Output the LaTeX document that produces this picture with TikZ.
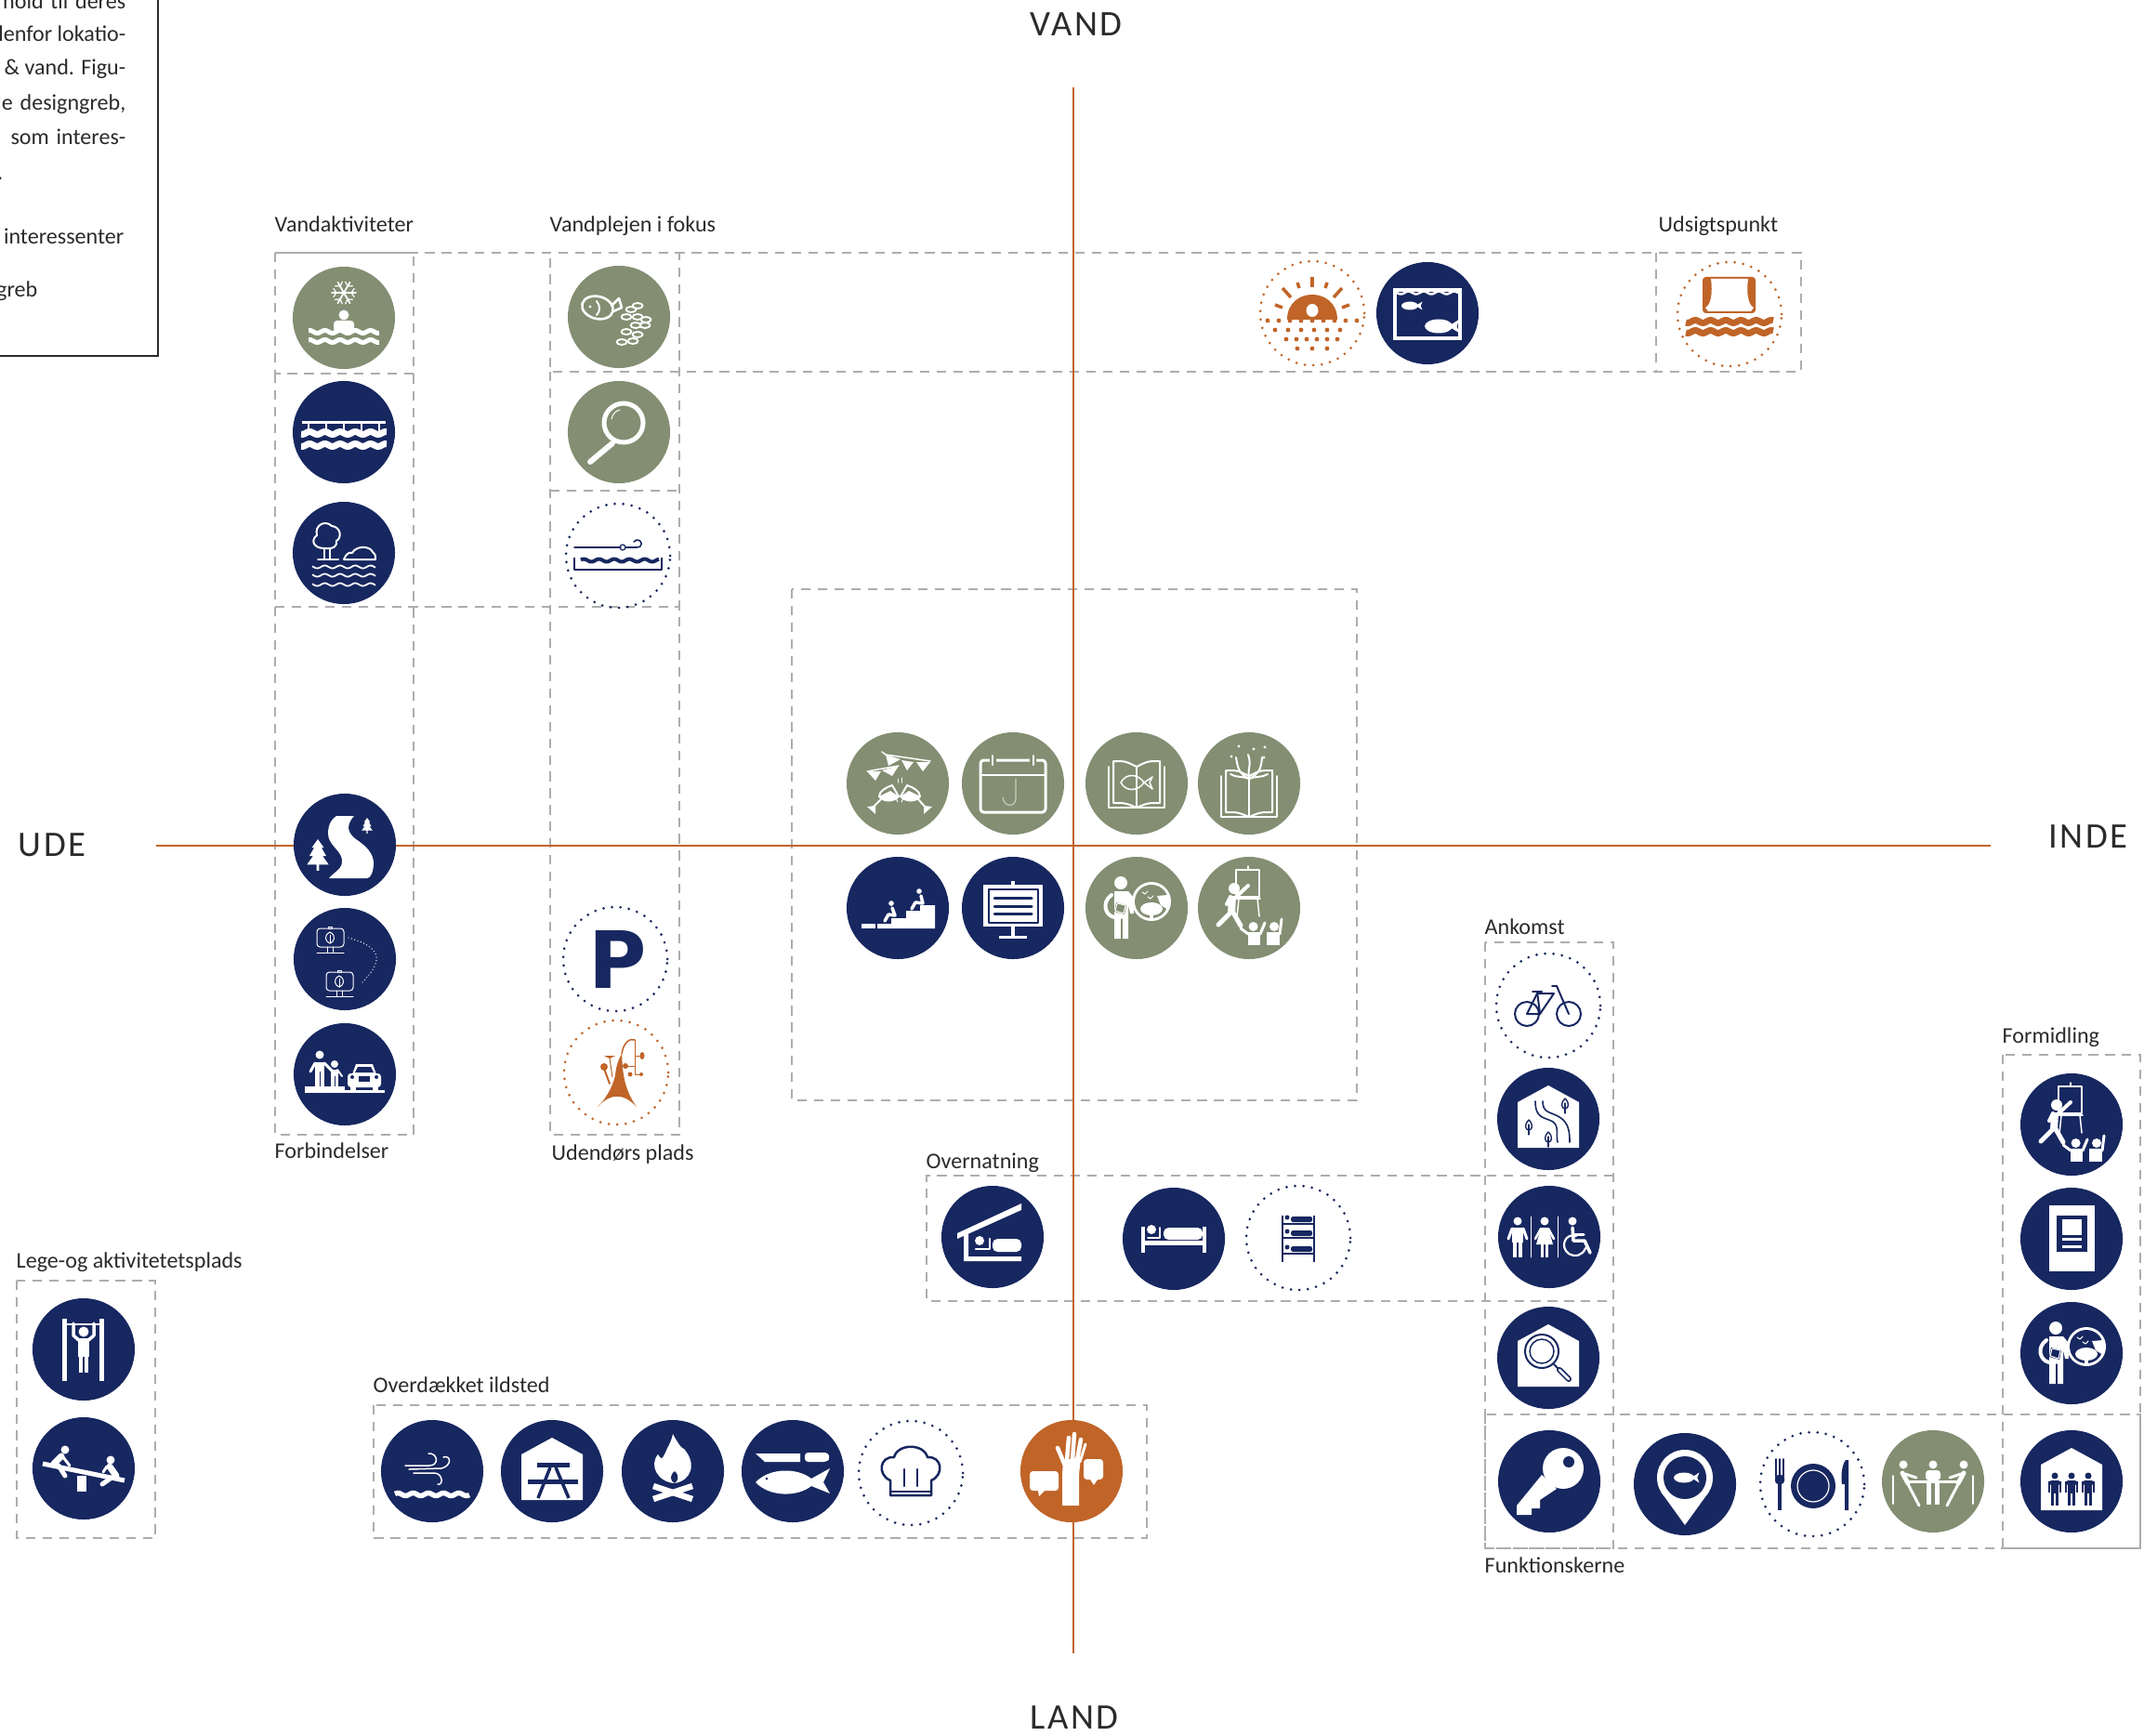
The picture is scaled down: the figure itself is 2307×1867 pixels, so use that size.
\documentclass[tikz,border=0pt]{standalone}
\usepackage{fontspec}
\setmainfont{Carlito}
\newfontfamily\axisfont[LetterSpace=6]{Carlito}
\newfontfamily\parkfont{DejaVu Sans}
\definecolor{navy}{HTML}{172760}
\definecolor{sage}{HTML}{838E72}
\definecolor{rust}{HTML}{C06428}
\definecolor{dashgray}{HTML}{ADADAD}
\definecolor{inkgray}{HTML}{2B2B2B}
\tikzset{
  lw/.style={line width=#1*0.01cm},
  dashbox/.style={draw=dashgray,lw=2,dash pattern=on 2.9pt off 2.2pt},
  axisline/.style={draw=rust,lw=2.6},
  axislabel/.style={font=\axisfont\fontsize{11pt}{13pt}\selectfont,text=inkgray,inner sep=0},
  grouplabel/.style={anchor=west,font=\fontsize{6.85pt}{8pt}\selectfont,text=inkgray,inner sep=0,text height=5pt,text depth=1.5pt},
  notetext/.style={anchor=east,font=\fontsize{6.85pt}{8pt}\selectfont,text=inkgray,inner sep=0,text height=5pt,text depth=1.5pt},
  disc/.style={circle,fill=#1,minimum size=1.1cm,inner sep=0},
  ringnavy/.style={circle,draw=navy,minimum size=1.12cm,inner sep=0,lw=3,line cap=round,dash pattern=on 0pt off 2.6pt},
  ringrust/.style={circle,draw=rust,minimum size=1.12cm,inner sep=0,lw=3,line cap=round,dash pattern=on 0pt off 2.6pt},
  icon/.style={shift={(#1)},white,line cap=round,line join=round,lw=2},
}
\newcommand{\wavy}[4]{\draw[lw=#4,line cap=butt] plot[domain=#1:#2,samples=50] (\x,{#3+1.5*sin(22*\x)});}
\newcommand{\firicon}[3]{\begin{scope}[shift={(#1,#2)},scale=#3]
\fill (0,-10)--(5,-3)--(3,-3)--(7,4)--(4,4)--(9,11)--(1,11)--(1,16)--(-1,16)--(-1,11)--(-9,11)--(-4,4)--(-7,4)--(-3,-3)--(-5,-3)--cycle;
\end{scope}}
\newcommand{\fishicon}[3]{\begin{scope}[shift={(#1,#2)},scale=#3]
\fill (0,0) ellipse (10 and 5);
\fill (7,0)--(15,-5)--(13,0)--(15,5)--cycle;
\end{scope}}
\newcommand{\houseshape}{\fill (-33,-18)--(0,-36)--(33,-18)--(33,31)--(-33,31)--cycle;}
\newcommand{\bookicon}{
\draw (-30,-18)--(-30,26)--(30,26)--(30,-18);
\draw (-25,-24) .. controls (-12,-24) .. (0,-18) .. controls (12,-24) .. (25,-24) -- (25,21) .. controls (12,21) .. (0,26) .. controls (-12,21) .. (-25,21) -- cycle;
\draw (0,-18)--(0,26);}
\newcommand{\guideicon}[1]{
\fill (-17,-27) circle (7);
\fill (-24,-18)--(-9,-18)--(-4,-12)--(-3,6)--(-7,6)--(-9,-4)--(-9,33)--(-15,33)--(-16,12)--(-17,33)--(-24,33)--cycle;
\draw[#1,lw=1.5] (-16,12)--(-16,33);
\draw[lw=4] (-27,-14) .. controls (-38,-6) and (-34,8) .. (-24,10);
\fill[#1] (-22,-6)--(-11,-3)--(-13,7)--(-24,4)--cycle;
\draw[lw=1] (-21,-5)--(-12,-3)--(-14,6)--(-23,3)--cycle;
\fill (16,-7) circle (21);
\fill[#1] (16,-7) circle (18);
\fill (16,1) ellipse (12 and 7);
\fill (14,4) rectangle (18,12);
\fill (22,-13)--(34,-14)--(34,2)--(26,-3)--cycle;
\draw[lw=1] (6,-17)--(9,-15)--(12,-18);
\draw[lw=1] (12,-12)--(15,-10)--(18,-13);}
\newcommand{\teachericon}[1]{
\draw[lw=1.5] (-14,-41) rectangle (11,-12);
\draw[lw=1.5] (-1,-45)--(-1,-41);
\draw[lw=1.5] (-14,-10)--(12,-10);
\draw[lw=1.5] (-11,-10)--(-13,10);
\draw[lw=1.5] (9,-10)--(11,9);
\fill (-16,-21) circle (6);
\draw[lw=8,line cap=butt] (-18,-13)--(-19,6);
\draw[lw=4] (-15,-11)--(-1,-24);
\draw[lw=4] (-20,-12)--(-24,-4);
\draw[lw=5] (-20,5)--(-33,18);
\draw[lw=5] (-17,5)--(-9,19);
\fill (4.6,20) circle (5);
\fill (27,20) circle (5);
\fill (-1,26) rectangle (12,40);
\fill (19,26) rectangle (33,40);
\draw[lw=3] (-1,28)--(-9,22);
\draw[lw=3] (12,28)--(17,16);
\draw[lw=3] (33,28)--(35,12);}
\begin{document}
\begin{tikzpicture}[x=0.01cm,y=-0.01cm]
\useasboundingbox (0,0) rectangle (2307,1867);

% note in the corner
\draw[inkgray,lw=1.5] (-10,-10) rectangle (170,383);
\node[notetext] (noteA) at (136,3) {hold\hspace{2.2pt}til\hspace{2.2pt}deres};
\node[notetext] (noteB) at (136,38) {lenfor lokatio-};
\node[notetext] (noteC) at (136,74) {\& vand. Figu-};
\node[notetext] (noteD) at (136,112) {le\hspace{2.2pt}designgreb,};
\node[notetext] (noteE) at (136,149) {som\hspace{2.2pt}interes-};
\node[notetext] (noteF) at (4,187) {.};
\node[notetext] (noteG) at (134,256) {interessenter};
\node[notetext] (noteH) at (41,313) {greb};

% dashed groups
\draw[dashbox] (296,272) rectangle (445,402);
\draw[dashbox] (296,272) -- (1938,272) -- (1938,400) -- (592,400) -- (592,272);
\draw[dashbox] (1782,272) -- (1782,400);
\draw[dashbox] (296,402) -- (296,1221) -- (445,1221) -- (445,402);
\draw[dashbox] (296,653) -- (731,653);
\draw[dashbox] (592,400) -- (592,1221) -- (731,1221) -- (731,272);
\draw[dashbox] (592,528) -- (731,528);
\draw[dashbox] (852,634) rectangle (1460,1184);
\draw[dashbox] (1736,1265) -- (997,1265) -- (997,1400) -- (1736,1400);
\draw[dashbox] (1598,1014) rectangle (1736,1666);
\draw[dashbox] (1598,1522) rectangle (2303,1666);
\draw[dashbox] (2155,1135) rectangle (2303,1666);
\draw[dashbox] (18,1378) rectangle (167,1655);
\draw[dashbox] (402,1512) rectangle (1234,1655);

% axes
\coordinate (udeEnd) at (168,910);
\coordinate (indeEnd) at (2142,910);
\coordinate (vandEnd) at (1155,94);
\coordinate (landEnd) at (1155,1779);
\draw[axisline] (udeEnd) -- (indeEnd);
\draw[axisline] (vandEnd) -- (landEnd);
\node[axislabel] (vand) at (1158,26) {VAND};
\node[axislabel] (land) at (1156,1848) {LAND};
\node[axislabel] (ude) at (56,909) {UDE};
\node[axislabel] (inde) at (2247,900) {INDE};

% group names
\node[grouplabel] (lblVand) at (295,243) {Vandaktiviteter};
\node[grouplabel] (lblPleje) at (591,243) {Vandplejen i fokus};
\node[grouplabel] (lblUdsigt) at (1784,243) {Udsigtspunkt};
\node[grouplabel] (lblForb) at (295,1240) {Forbindelser};
\node[grouplabel] (lblPlads) at (593,1242) {Udendørs plads};
\node[grouplabel] (lblOver) at (996,1251) {Overnatning};
\node[grouplabel] (lblAnk) at (1597,999) {Ankomst};
\node[grouplabel] (lblForm) at (2154,1116) {Formidling};
\node[grouplabel] (lblFunk) at (1597,1686) {Funktionskerne};
\node[grouplabel] (lblIld) at (401,1492) {Overdækket ildsted};
\node[grouplabel] (lblLege) at (17,1358) {Lege-og aktivitetetsplads};

% the discs
\node[disc=sage] (bath) at (370,342) {};
\node[disc=navy] (bridge) at (370,465) {};
\node[disc=navy] (shore) at (370,595) {};
\node[disc=navy] (river) at (371,909) {};
\node[disc=navy] (signs) at (371,1032) {};
\node[disc=navy] (walkcar) at (371,1156) {};
\node[disc=sage] (roe) at (666,341) {};
\node[disc=sage] (lens) at (666,465) {};
\node[ringnavy] (hook) at (665,598) {};
\node[ringnavy] (park) at (662,1032) {};
\node[font=\parkfont\bfseries\fontsize{24.2pt}{25pt}\selectfont,text=navy,inner sep=0] (parkP) at (665,1032) {P};
\node[ringrust] (mobile) at (663,1154) {};
\node[ringrust] (sun) at (1412,337) {};
\node[disc=navy] (tank) at (1536,337) {};
\node[ringrust] (stage) at (1861,338) {};
\node[disc=sage] (party) at (966,843) {};
\node[disc=sage] (calendar) at (1090,843) {};
\node[disc=sage] (bookfish) at (1223,843) {};
\node[disc=sage] (booktree) at (1344,843) {};
\node[disc=navy] (steps) at (966,977) {};
\node[disc=navy] (board) at (1090,977) {};
\node[disc=sage] (guideA) at (1223,977) {};
\node[disc=sage] (teachA) at (1344,977) {};
\node[disc=navy] (shelter) at (1068,1331) {};
\node[disc=navy] (bed) at (1263,1333) {};
\node[ringnavy] (bunk) at (1397,1332) {};
\node[ringnavy] (bike) at (1666,1082) {};
\node[disc=navy] (houseroad) at (1666,1204) {};
\node[disc=navy] (toilet) at (1667,1331) {};
\node[disc=navy] (houselens) at (1666,1461) {};
\node[disc=navy] (key) at (1667,1594) {};
\node[disc=navy] (pin) at (1813,1597) {};
\node[ringnavy] (plate) at (1950,1597) {};
\node[disc=sage] (meeting) at (2080,1594) {};
\node[disc=navy] (housepeople) at (2229,1594) {};
\node[disc=navy] (teachB) at (2229,1210) {};
\node[disc=navy] (poster) at (2229,1333) {};
\node[disc=navy] (guideB) at (2229,1456) {};
\node[disc=navy] (wind) at (465,1583) {};
\node[disc=navy] (picnic) at (594,1583) {};
\node[disc=navy] (fire) at (724,1583) {};
\node[disc=navy] (knife) at (853,1583) {};
\node[ringnavy] (chef) at (980,1585) {};
\node[disc=rust] (hand) at (1153,1583) {};
\node[disc=navy] (pullup) at (90,1452) {};
\node[disc=navy] (seesaw) at (90,1580) {};

% the glyphs on the discs
\begin{scope}[icon=bath]
\foreach \a in {0,60,...,300} {
\draw[lw=1.8] (0,-27) -- ({13*cos(\a)},{-27+13*sin(\a)});
\draw[lw=1.2] ({8*cos(\a)},{-27+8*sin(\a)}) -- ({12*cos(\a+22)},{-27+12*sin(\a+22)});
\draw[lw=1.2] ({8*cos(\a)},{-27+8*sin(\a)}) -- ({12*cos(\a-22)},{-27+12*sin(\a-22)});}
\fill (0,-3) circle (5.5);
\fill[rounded corners=1pt] (-11,15) -- (-11,3) -- (11,3) -- (11,15) -- cycle;
\wavy{-38}{38}{15}{5}
\wavy{-38}{38}{25}{5}
\end{scope}

\begin{scope}[icon=bridge]
\draw[lw=3,line cap=butt] (-45,-11) -- (45,-11);
\foreach \x in {-38,-19,0,19,38} {\draw[lw=2,line cap=butt] (\x,-11) -- (\x,0);}
\wavy{-46}{46}{1}{7}
\wavy{-46}{46}{14}{7}
\end{scope}

\begin{scope}[icon=shore]
\draw (-21,-5) .. controls (-33,-5) and (-36,-14) .. (-29,-19) .. controls (-32,-30) and (-20,-36) .. (-13,-29) .. controls (-3,-28) and (-2,-16) .. (-8,-13) .. controls (-7,-7) and (-12,-5) .. (-15,-5) -- cycle;
\draw (-21,-5) -- (-21,7);
\draw (-15,-5) -- (-15,7);
\draw (-28,7) -- (-6,7);
\draw (0,7) .. controls (3,0) and (6,-1) .. (9,0) .. controls (13,-8) and (28,-8) .. (31,-1) .. controls (34,2) .. (34,7) -- (0,7);
\wavy{-34}{34}{15}{1.8}
\wavy{-34}{34}{24}{1.8}
\wavy{-34}{34}{34}{1.8}
\end{scope}

\begin{scope}[icon=roe]
\draw[lw=2.6,rotate around={-14:(-23,-10)}] (-23,-10) ellipse (17 and 12);
\draw[lw=2.6] (-8,-12) -- (0,-20) -- (3,-10) -- (-6,-6);
\draw[lw=2] (-24,-17) .. controls (-20,-12) and (-20,-6) .. (-24,-2);
\fill (-31,-11) circle (1.6);
\foreach \p/\q in {13/-8,20/-12,8/0,20/0,29/3,18/9,28/9,8/16,20/19,3/27,15/26} {\draw[lw=1.9] (\p,\q) ellipse (5.5 and 3);}
\end{scope}

\begin{scope}[icon=lens]
\draw[lw=5] (5,-10) circle (21);
\draw[lw=6] (-7,12) -- (-31,32);
\draw[lw=1] (-8,-14) .. controls (-7,-20) and (-3,-23) .. (1,-24);
\end{scope}

\begin{scope}[icon=hook,navy]
\draw[lw=1.6] (-47,-9) -- (3,-9);
\draw[lw=1.2] (5,-9) circle (3);
\draw[lw=1.6] (8,-9) -- (20,-9) .. controls (27,-9) and (27,-17) .. (20,-17) -- (17,-15);
\draw[lw=2,line cap=butt] (-47,2) -- (-47,15) -- (47,15) -- (47,2);
\wavy{-40}{44}{5}{4}
\end{scope}

\begin{scope}[icon=river]
\fill (-9,-31) -- (10,-31) .. controls (0,-20) and (4,-12) .. (12,-6) .. controls (24,2) and (31,10) .. (31,20) .. controls (31,28) and (28,36) .. (24,36) -- (-17,36) .. controls (-10,28) and (-2,26) .. (-3,16) .. controls (-4,6) and (-18,0) .. (-18,-12) .. controls (-18,-22) and (-14,-28) .. (-9,-31) -- cycle;
\firicon{-29}{7}{1.3}
\firicon{24}{-22.5}{0.65}
\end{scope}

\begin{scope}[icon=signs]
\foreach \bx/\by in {-16/-22,-6/25} {
\begin{scope}[shift={(\bx,\by)},lw=1]
\draw[rounded corners=1pt] (-14,-11) rectangle (15,9);
\draw (-2,-13) rectangle (2,-11);
\draw (0,-7) .. controls (8,-3) and (4,4) .. (0,5) .. controls (-4,4) and (-8,-3) .. (0,-7);
\draw (0,-4) -- (0,5);
\draw (-3,9) -- (-3,15);
\draw (3,9) -- (3,15);
\draw (-14,15) -- (15,15);
\end{scope}}
\draw[lw=1.4,line cap=round,dash pattern=on 0pt off 1pt] (4,-23) .. controls (22,-18) and (36,-10) .. (34,1) .. controls (33,10) and (24,20) .. (17,27);
\end{scope}

\begin{scope}[icon=walkcar]
\fill (-43,13) rectangle (0,20);
\fill (0,17) rectangle (43,20);
\fill (-27,-21) circle (4.5);
\fill (-32,-13) rectangle (-22,13);
\draw[lw=3] (-32,-12) -- (-37,-3);
\draw[lw=3] (-22,-12) -- (-14,-4);
\draw[navy,lw=1,line cap=butt] (-27,-3) -- (-27,13);
\fill (-11,-11) circle (4);
\fill (-15,-5) rectangle (-7,13);
\draw[lw=2] (-8,-5) -- (-3,2);
\draw[navy,lw=1,line cap=butt] (-11,2) -- (-11,13);
\fill[rounded corners=1pt] (3,-1) rectangle (39,14);
\fill (8,0) -- (12,-11) -- (30,-11) -- (34,0) -- cycle;
\fill[navy] (11,-2) -- (14,-8) -- (28,-8) -- (31,-2) -- cycle;
\fill (6,12) rectangle (12,17);
\fill (30,12) rectangle (36,17);
\fill[navy] (15,2) rectangle (27,8);
\fill[navy] (8,3) circle (2);
\fill[navy] (34,3) circle (2);
\end{scope}

\begin{scope}[icon=mobile,rust]
\fill (-20,37) .. controls (-8,25) and (-3,12) .. (-1,3) .. controls (0,-8) and (3,-15) .. (6,-20) .. controls (7,-8) and (6,15) .. (22,37) .. controls (8,22) and (-6,22) .. (-20,37) -- cycle;
\draw[lw=1.5] (6,-20) .. controls (8,-33) and (15,-37) .. (20,-35);
\draw[lw=0.8] (20,-35) -- (20,-18) -- (28,-18);
\draw[lw=0.8] (20,-18) -- (20,2) -- (27,2);
\draw[lw=0.8] (10,-7) -- (20,-7);
\fill (28,-18) ellipse (2.5 and 4);
\fill (10,-7) circle (3);
\fill (15,2) circle (2.5);
\fill (27,2) circle (2);
\fill (-13,-6) circle (4);
\draw[lw=2] (-13,-4) -- (-7,12);
\fill (-13,-18) -- (-1,-18) -- (-7,-15) -- cycle;
\draw[lw=1] (-7,-15) -- (-4,5);
\end{scope}

\begin{scope}[icon=sun,rust]
\fill (-27,7) .. controls (-27,-29) and (27,-29) .. (27,7) -- cycle;
\fill[white] (0,-3) ellipse (6.5 and 7);
\draw[lw=3.5,line cap=butt] (0,-39) -- (0,-28);
\draw[lw=3.5,line cap=butt] (-16,-33) -- (-14,-27);
\draw[lw=3.5,line cap=butt] (16,-33) -- (14,-27);
\draw[lw=3.5,line cap=butt] (-32,-27) -- (-23,-17);
\draw[lw=3.5,line cap=butt] (32,-27) -- (23,-17);
\draw[lw=3.5,line cap=butt] (-40,-9) -- (-32,-6);
\draw[lw=3.5,line cap=butt] (40,-9) -- (32,-6);
\foreach \x in {-48,-36,...,48} {\fill (\x,8) circle (2.4);}
\foreach \x in {-40,-26,...,40} {\fill (\x,18) circle (2.4);}
\foreach \x in {-28,-17,...,28} {\fill (\x,28) circle (2.4);}
\foreach \x in {-16,0,16} {\fill (\x,38) circle (2.4);}
\end{scope}

\begin{scope}[icon=tank]
\draw[lw=4,line cap=butt,line join=miter] (-35,-25) rectangle (35,27);
\wavy{-33}{33}{-22}{2.5}
\fishicon{-19}{-8}{0.9}
\fishicon{12}{14}{1.5}
\end{scope}

\begin{scope}[icon=stage,rust]
\fill[rounded corners=1pt] (-29,-40) rectangle (28,-1);
\fill[white] (-20,-38) -- (20,-38) .. controls (18,-22) and (20,-10) .. (26,-7) -- (23,-3) -- (-23,-3) -- (-26,-7) .. controls (-20,-10) and (-18,-22) .. (-20,-38) -- cycle;
\wavy{-47}{47}{8}{7}
\wavy{-47}{47}{19}{7}
\end{scope}

\begin{scope}[icon=party]
\draw[lw=1.5] (-17,-34) -- (-13,-31) -- (35,-24);
\draw[lw=1.5] (-33,-13) -- (1,-19);
\fill (-13,-31) -- (3,-26) -- (-10,-19) -- cycle;
\fill (4,-25) -- (17,-23) -- (10,-14) -- cycle;
\fill (20,-23) -- (35,-23) -- (27,-13) -- cycle;
\fill (-33,-13) -- (-18,-13) -- (-24,-3) -- cycle;
\fill (-17,-14) -- (1,-19) -- (-6,-8) -- cycle;
\draw[lw=2] (-6,2) -- (1,14) .. controls (-5,20) and (-15,20) .. (-20,14) .. controls (-20,8) and (-12,4) .. (-6,2);
\fill (1,14) .. controls (-5,20) and (-15,20) .. (-20,14) -- (-8,8) -- cycle;
\draw[lw=2] (-18,17) -- (-27,26);
\fill (-33,25) -- (-24,33) -- (-24,24) -- cycle;
\draw[lw=2] (10,2) -- (3,14) .. controls (9,20) and (19,20) .. (24,14) .. controls (24,8) and (16,4) .. (10,2);
\fill (3,14) .. controls (9,20) and (19,20) .. (24,14) -- (12,8) -- cycle;
\draw[lw=2] (22,17) -- (30,26);
\fill (37,25) -- (28,33) -- (28,24) -- cycle;
\draw[lw=1] (0,-5) -- (0,-1);
\draw[lw=1] (4,-6) -- (4,-1);
\draw[lw=1] (-2,16) -- (0,20);
\draw[lw=1] (6,16) -- (4,20);
\end{scope}

\begin{scope}[icon=calendar]
\draw[lw=3,rounded corners=1pt] (-35,-25) rectangle (35,31);
\draw[lw=2] (-35,-9) -- (35,-9);
\fill[sage] (-25,-31) rectangle (-18,-19);
\fill[sage] (18,-31) rectangle (25,-19);
\draw[lw=2] (-22,-30) -- (-22,-20);
\draw[lw=2] (22,-30) -- (22,-20);
\draw[lw=1.2,white!55!sage] (3,-5) -- (3,16) .. controls (3,26) and (-10,26) .. (-11,15);
\end{scope}

\begin{scope}[icon=bookfish]
\bookicon
\draw[lw=1.5] (-17,-1) .. controls (-11,-12) and (2,-10) .. (8,-1) .. controls (2,8) and (-11,10) .. (-17,-1) -- cycle;
\draw[lw=1.5] (8,-1) -- (17,-7) -- (14,-1) -- (17,6) -- cycle;
\end{scope}

\begin{scope}[icon=booktree,shift={(0,10)}]
\bookicon
\end{scope}
\begin{scope}[icon=booktree]
\draw (0,-5) .. controls (-2,-15) and (3,-20) .. (-1,-31);
\draw (0,-5) .. controls (-10,-10) and (-12,-15) .. (-14,-28);
\draw (0,-5) .. controls (10,-10) and (13,-15) .. (14,-28);
\draw (0,-5) .. controls (-6,-8) and (-14,-6) .. (-20,-10);
\draw (0,-5) .. controls (6,-8) and (14,-6) .. (20,-10);
\foreach \p/\q in {-11/-40,5/-37,17/-39,-19/-29,16/-28} {\fill (\p,\q) circle (1.7);}
\end{scope}

\begin{scope}[icon=steps]
\fill (-39,17) rectangle (-24,22);
\fill (-22,17) -- (-7,17) -- (-7,11) -- (9,11) -- (9,3) -- (24,3) -- (24,-3) -- (40,-3) -- (40,22) -- (-22,22) -- cycle;
\fill (-7,-5) circle (2.8);
\draw[lw=3.5] (-6,0) -- (-3,8) -- (-10,7) -- (-14,14);
\fill (23,-18) circle (2.8);
\draw[lw=3.5] (25,-13) -- (27,-5) -- (19,-6) -- (15,1);
\end{scope}

\begin{scope}[icon=board]
\fill (-32,-25) rectangle (32,20);
\draw[navy,lw=1.6,line cap=butt] (-26,-20) rectangle (27,16);
\foreach \y in {-11,-2,6} {\draw[navy,lw=3] (-20,\y) -- (20,\y);}
\fill (-2,-29) rectangle (2,-25);
\fill (-2,20) rectangle (2,30);
\fill (-15,30) rectangle (15,33);
\end{scope}

\begin{scope}[icon=guideA]
\guideicon{sage}
\end{scope}
\begin{scope}[icon=guideB]
\guideicon{navy}
\end{scope}
\begin{scope}[icon=teachA]
\teachericon{sage}
\end{scope}
\begin{scope}[icon=teachB]
\teachericon{navy}
\end{scope}

\begin{scope}[icon=shelter]
\fill (-38,-4) -- (31,-36) -- (31,-29) -- (-38,2) -- cycle;
\fill (-31,-4) -- (-26,-6) -- (-26,21) -- (31,21) -- (31,26) -- (-31,26) -- cycle;
\fill (-14,4) circle (5);
\draw[lw=2.5] (-3,2) -- (-3,13) -- (-18,13);
\fill[rounded corners=1.5pt] (0,2) -- (31,2) -- (31,16) -- (0,16) -- cycle;
\end{scope}

\begin{scope}[icon=bed]
\fill (-35,-13) rectangle (-31,15);
\fill (31,-13) rectangle (35,15);
\fill (-31,2) rectangle (31,7);
\fill (-24,-10) circle (5);
\draw[lw=2] (-15,-12) -- (-15,-1) -- (-28,-1);
\fill[rounded corners=1.5pt] (-11,-12) -- (31,-12) -- (31,1) -- (-11,1) -- cycle;
\end{scope}

\begin{scope}[icon=bunk,navy]
\fill (-18,-24) rectangle (-16,26);
\fill (16,-24) rectangle (18,26);
\foreach \y in {-24,-9,8} {
\fill (-16,{\y+8}) rectangle (16,{\y+10});
\fill[rounded corners=0.5pt] (-8,{\y+1}) rectangle (15,{\y+7});
\fill (-12,{\y+2}) circle (2.5);}
\end{scope}

\begin{scope}[icon=bike,navy]
\draw (-23,9) circle (13);
\draw (22,9) circle (13);
\draw (-23,9) -- (-12,-13) -- (6,-13) -- (-9,9) -- cycle;
\draw (-12,-15) -- (-9,9);
\draw (9,-21) -- (22,9);
\draw (-17,-15) -- (-7,-15);
\draw (4,-21) -- (9,-21);
\end{scope}

\begin{scope}[icon=houseroad]
\houseshape
\draw[navy,lw=1.6] (-14,-19) .. controls (-14,0) and (-4,-2) .. (5,3) .. controls (12,8) and (8,18) .. (10,25);
\draw[navy,lw=1.6] (-6,-19) .. controls (-6,-6) and (2,-8) .. (12,-2) .. controls (22,4) and (23,14) .. (23,25);
\foreach \p/\q in {-21/8,18/-15,0/21} {
\draw[navy,lw=1.4] (\p,{\q-7}) .. controls ({\p+6},{\q-1}) and ({\p+3},{\q+4}) .. (\p,{\q+4}) .. controls ({\p-3},{\q+4}) and ({\p-6},{\q-1}) .. (\p,{\q-7});
\draw[navy,lw=1.2] (\p,{\q-2}) -- (\p,{\q+9});}
\end{scope}

\begin{scope}[icon=toilet]
\draw[lw=0.8] (-20,-22) -- (-20,22);
\draw[lw=0.8] (9,-22) -- (9,22);
\fill (-34,-17) circle (4.5);
\fill (-40,-10) rectangle (-28,6);
\fill (-39,6) rectangle (-35,22);
\fill (-33,6) rectangle (-29,22);
\draw[lw=3] (-40,-9) -- (-44,2);
\draw[lw=3] (-28,-9) -- (-24,2);
\fill (-5,-17) circle (4.5);
\fill (-9,-10) -- (-1,-10) -- (4,8) -- (-14,8) -- cycle;
\fill (-9,8) rectangle (-6,22);
\fill (-4,8) rectangle (-1,22);
\draw[lw=2.5] (-9,-9) -- (-15,2);
\draw[lw=2.5] (-1,-9) -- (5,2);
\fill (25,-17) circle (4.5);
\draw[lw=2.2] (29,-1) .. controls (17,-5) and (11,11) .. (21,18) .. controls (28,22) and (36,20) .. (39,12);
\draw[lw=3.5] (25,-10) -- (26,4) -- (38,4) -- (44,17);
\draw[lw=3] (26,-3) -- (37,-3);
\end{scope}

\begin{scope}[icon=houselens]
\houseshape
\draw[navy,lw=2] (-7,-7) circle (18);
\draw[navy,lw=1.5] (-7,-7) circle (13);
\draw[navy,lw=2] (6,7) -- (11,12);
\draw[navy,lw=6] (12,13) -- (22,23);
\draw[white,lw=2.5] (12,13) -- (22,23);
\end{scope}

\begin{scope}[icon=key]
\fill (15,-14) circle (22);
\fill[navy] (21,-21) circle (6);
\fill (-35,26) -- (-8,-7) -- (8,8) -- (-10,20) -- (-10,29) -- (-19,29) -- (-19,36) -- (-35,36) -- cycle;
\end{scope}

\begin{scope}[icon=pin]
\fill (0,-7) circle (30);
\fill (-26,8) -- (0,44) -- (26,8) -- cycle;
\fill[navy] (0,-7) circle (23);
\fishicon{-1}{-7}{1.1}
\end{scope}

\begin{scope}[icon=plate,navy]
\fill (1,2) circle (24);
\draw[white,lw=1.2] (1,2) circle (17);
\fill (-37,-2) rectangle (-33,28);
\fill[rounded corners=1pt] (-40,-10) rectangle (-30,0);
\draw[lw=1.8] (-39,-27) -- (-39,-8);
\draw[lw=1.8] (-35,-27) -- (-35,-8);
\draw[lw=1.8] (-31,-27) -- (-31,-8);
\fill (36,-26) .. controls (31,-20) and (31,-5) .. (32,0) -- (35,0) -- (35,28) -- (39,28) -- (39,-26) -- cycle;
\end{scope}

\begin{scope}[icon=meeting]
\foreach \x in {-32,0,33} {\fill (\x,-18) circle (4.5);}
\fill[rounded corners=1pt] (-8,-12) -- (8,-12) -- (8,-1) -- (-8,-1) -- cycle;
\fill (-7,2) rectangle (-2,25);
\fill (2,2) rectangle (7,25);
\draw[lw=5] (-33,-9) -- (-27,2);
\draw[lw=3] (-30,-8) -- (-18,-4);
\draw[lw=3] (-27,3) -- (-15,26);
\draw[lw=5] (33,-9) -- (27,2);
\draw[lw=3] (30,-8) -- (18,-4);
\draw[lw=3] (27,3) -- (15,26);
\draw[lw=2] (-43,-6) -- (-43,24);
\draw[lw=2] (43,-6) -- (43,24);
\fill (-29,-1) rectangle (29,2);
\end{scope}

\begin{scope}[icon=housepeople]
\houseshape
\foreach \x in {-18,0,18} {
\fill[navy] (\x,-6) circle (3.5);
\fill[navy,rounded corners=1pt] ({\x-7},-1) rectangle ({\x+7},4);
\fill[navy] ({\x-4},0) rectangle ({\x+4},13);
\fill[navy] ({\x-4},13) rectangle ({\x-1},26);
\fill[navy] ({\x+1},13) rectangle ({\x+4},26);
\fill[navy] ({\x-7},0) rectangle ({\x-5},12);
\fill[navy] ({\x+5},0) rectangle ({\x+7},12);}
\end{scope}

\begin{scope}[icon=poster]
\fill (-24,-36) rectangle (25,35);
\fill[navy] (-16,-25) rectangle (17,14);
\fill (-10,-21) rectangle (11,-4);
\fill (-10,-1) rectangle (11,2);
\fill (-10,7) rectangle (11,10);
\end{scope}

\begin{scope}[icon=wind]
\wavy{-40}{40}{25}{5.5}
\draw[lw=1.5] (-29,-6) -- (-3,-6) .. controls (8,-6) and (6,-20) .. (-4,-19);
\draw[lw=1.5] (-25,-2) -- (10,-3) .. controls (22,-6) and (20,-18) .. (12,-15);
\draw[lw=1.5] (-20,2) -- (2,2) .. controls (12,2) and (12,16) .. (6,14);
\end{scope}

\begin{scope}[icon=picnic]
\houseshape
\fill[navy] (-16,-9) rectangle (19,-4);
\fill[navy] (-26,9) rectangle (28,14);
\draw[navy,lw=3.5,line cap=butt] (-2,-4) -- (-15,29);
\draw[navy,lw=3.5,line cap=butt] (4,-4) -- (18,29);
\end{scope}

\begin{scope}[icon=fire]
\fill (0,-40) .. controls (8,-25) and (10,-25) .. (12,-24) .. controls (26,-8) and (20,10) .. (2,13) .. controls (-16,12) and (-26,-6) .. (-16,-18) .. controls (-12,-12) .. (-8,-20) .. controls (-6,-26) and (-2,-30) .. (0,-40) -- cycle;
\fill[navy] (2,0) .. controls (7,5) and (6,10) .. (2,13) .. controls (-3,10) and (-4,5) .. (2,0);
\draw[lw=6.5,line cap=butt] (-21,16) -- (21,30);
\draw[lw=6.5,line cap=butt] (21,16) -- (-21,30);
\end{scope}

\begin{scope}[icon=knife]
\fill (-40,-19) -- (8,-19) -- (8,-10) -- (-30,-10) -- cycle;
\fill[rounded corners=1pt] (13,-20) -- (38,-20) -- (40,-14) -- (37,-10) -- (13,-10) -- cycle;
\fill (-40,12) .. controls (-25,-4) and (5,-4) .. (20,8) -- (40,-3) -- (33,12) -- (40,24) -- (20,16) .. controls (5,28) and (-25,28) .. (-40,12) -- cycle;
\fill[navy] (-28,8) circle (1.5);
\end{scope}

\begin{scope}[icon=chef,navy]
\draw[lw=2.5] (-22,24) -- (-22,8) .. controls (-36,2) and (-34,-18) .. (-18,-17) .. controls (-14,-32) and (14,-32) .. (18,-17) .. controls (34,-18) and (36,2) .. (22,8) -- (22,24) -- cycle;
\draw[lw=2.5] (-22,20) -- (22,20);
\draw[lw=2.5] (-7,-4) -- (-7,14);
\draw[lw=2.5] (7,-4) -- (7,14);
\end{scope}

\begin{scope}[icon=hand]
\fill[rounded corners=1pt] (13,-13) rectangle (34,9);
\fill (20,9) -- (24,15) -- (28,9) -- cycle;
\fill[rounded corners=1pt] (-45,0) rectangle (-14,21);
\fill (-36,21) -- (-35,27) -- (-29,21) -- cycle;
\draw[rust,lw=9,line cap=butt] (0,8) -- (0,-10);
\fill (-10,37) -- (-10,4) -- (-9,-12) -- (10,-15) -- (8,4) -- (8,37) -- cycle;
\draw[lw=4.5] (-7,-6) -- (-15,-25);
\draw[lw=4.5] (-5,-12) -- (-3,-36);
\draw[lw=4.5] (1,-12) -- (3,-40);
\draw[lw=4.5] (6,-12) -- (10,-34);
\draw[lw=3] (9,-10) -- (15,-29);
\end{scope}

\begin{scope}[icon=pullup]
\fill (-23,-33) rectangle (-18,34);
\fill (17,-33) rectangle (22,34);
\draw[lw=2] (-22,-27) -- (20,-27);
\draw[lw=3.5] (-11,-28) -- (-11,-15) -- (-4,-9);
\draw[lw=3.5] (11,-28) -- (11,-15) -- (4,-9);
\fill (0,-19) circle (5.5);
\fill (-6,-12) rectangle (6,8);
\fill (-5,8) rectangle (-1,25);
\fill (1,8) rectangle (5,25);
\end{scope}

\begin{scope}[icon=seesaw]
\draw[lw=5,line cap=butt] (-44,-5) -- (44,13);
\fill (-7,8) rectangle (3,25);
\fill (-20,-20) circle (4.5);
\draw[lw=7] (-24,-13) -- (-32,-5);
\draw[lw=5] (-27,-3) -- (-20,8);
\draw[lw=3] (-22,-12) -- (-15,-3);
\fill (29,-9) circle (4.5);
\draw[lw=7] (28,-2) -- (35,8);
\draw[lw=5] (30,10) -- (20,17);
\draw[lw=3] (25,-2) -- (21,4);
\end{scope}

\end{tikzpicture}
\end{document}
